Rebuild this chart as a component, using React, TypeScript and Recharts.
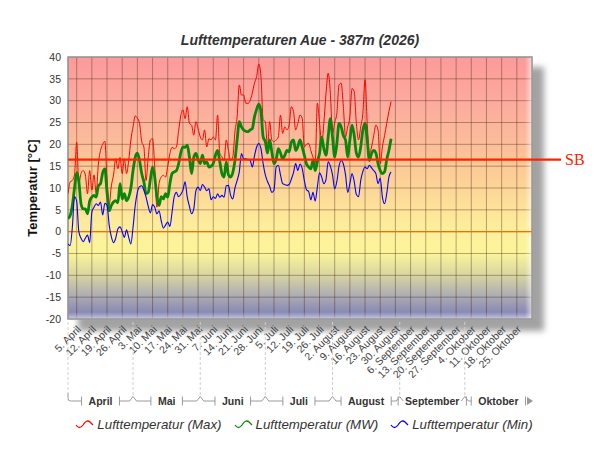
import React from 'react';
import * as RC from 'recharts';

const { LineChart, Line, XAxis, YAxis, CartesianGrid, ReferenceLine, ReferenceArea, Legend } = RC as any;

// ---------- data ----------
const maxValues = [
  8.7, 11.4, 11.7, 13, 20.5, 11, 13.3, 14, 13, 8.7,
  14, 9.5, 13, 8.7, 15.5, 18.6, 20, 20.7, 12, 6.2,
  10.5, 13, 16.7, 14.4, 17, 13.3, 16.7, 13.3, 16.3, 21,
  24, 26.5, 26, 24.8, 20.6, 19.4, 11.7, 17, 21, 21.3,
  14.8, 5.6, 11, 12.5, 12.9, 12.5, 15, 17.9, 19.3, 19,
  19.4, 23, 26.5, 27.9, 25.9, 28.6, 24.8, 24.4, 22.1, 25.2,
  23.6, 21.7, 21, 23.3, 19.4, 21.3, 21, 21.7, 21, 26.7,
  18, 17.1, 16.3, 21, 18.6, 16.3, 17.1, 22.9, 26.3, 33.6,
  31.3, 31.3, 29.4, 29.4, 30, 31.7, 34, 35.5, 38.4, 35.5,
  25.6, 25.2, 19.4, 25.2, 21, 20.6, 21, 21.7, 26.7, 22.5,
  24, 23.3, 24.4, 28.6, 27.5, 23.3, 24.8, 26.7, 26, 19.4,
  20, 20.2, 18.6, 17, 15.6, 29.4, 25, 20.2, 24.8, 31.7,
  36.3, 31.7, 22.5, 25, 27.1, 33.6, 34, 28.6, 21.7, 24,
  26.3, 32.8, 32.1, 24.8, 21, 24, 27.1, 34.8, 24.8, 17.9,
  19.4, 22, 24.4, 23.3, 15.6, 19.4, 22, 24.8, 27.5, 29.8,
];

const mwValues = [
  3, 3.7, 6, 10, 13.5, 11.5, 6.4, 5.2, 5.2, 4.1,
  7, 7.9, 8.3, 7.9, 10.5, 11, 13.5, 14.4, 9, 4.8,
  6, 6.8, 7.1, 6.6, 11, 7.5, 8.7, 7.1, 7.9, 10,
  14, 17, 18, 16.3, 13.3, 11.4, 8.7, 9, 12, 14.8,
  12.5, 8, 6, 8, 7.5, 8.7, 7.9, 11, 13.3, 13.7,
  14, 15.5, 18, 19.4, 19.3, 19.8, 17.1, 13.3, 17, 17.9,
  16.5, 15.6, 17.5, 15.6, 16, 14.8, 15, 15.6, 17.5, 18.6,
  16, 13.3, 12.5, 16, 13, 12.5, 13.5, 16.3, 21, 25.2,
  24, 23.3, 23, 22.9, 23.3, 23.6, 26.3, 28, 29.2, 27.5,
  21.7, 20.6, 18, 21, 18.3, 15.6, 16.5, 19, 18, 16.7,
  17.5, 18.6, 18.3, 20.5, 21, 18.6, 19.5, 21, 19.4, 17.5,
  15.5, 14.8, 14.4, 16.3, 14, 16, 17.9, 21.7, 19, 17.5,
  21.7, 25.9, 21.7, 17.1, 20.2, 24.8, 24, 22, 21, 17.1,
  21, 24.4, 22.1, 18, 17.1, 19.4, 23.3, 24.8, 21, 16.3,
  17.9, 18.6, 18, 15.6, 14, 13.3, 13.7, 16.5, 18.6, 21.3,
];

const minValues = [
  -2.8, -3.2, 1, 8, 7, 0, -1.5, -2.3, -1.5, -0.8,
  -2.5, 4.5, 5.6, 6.4, 6, 6.8, 3.8, 6.5, 6, 1.5,
  -1.2, -2.5, -1.5, 0.6, 1.1, 0, -1.3, 0.4, -1.3, -2.8,
  1, 6, 9, 10.3, 10.5, 9.5, 7.9, 5.8, 4.3, 6.2,
  5.6, 4.1, 4.8, 2.5, 0.8, 1.5, 2.2, 1.2, 4.5, 8,
  9, 8, 8.5, 9.5, 11.4, 7.9, 5.8, 4.1, 5.2, 9.4,
  10.2, 9.4, 10.8, 10.2, 9.4, 9.8, 7.3, 8, 7.6, 8.7,
  7.9, 8.3, 7.9, 10.5, 10.6, 8.3, 7.5, 10, 11.7, 13.7,
  17.9, 16.7, 16.7, 16.5, 16.3, 14.8, 17.3, 19.4, 20.2, 19,
  15.6, 13, 11.5, 10.4, 9, 9.5, 14.8, 15.2, 13, 11,
  10.8, 10.6, 10.8, 12, 13.5, 15.6, 14, 15.5, 14.5, 11.7,
  9.6, 9.2, 7.3, 9, 7, 10.2, 13.5, 12.5, 11, 12,
  16, 15, 13, 9.8, 11.5, 15, 16.3, 15.5, 13, 9,
  11, 13.3, 11.5, 8.5, 8, 11.7, 13.8, 14.8, 14.4, 15.2,
  14.6, 14, 13.3, 11, 12.3, 7.9, 6.4, 8.7, 12.5, 13.7,
];

const weekTickDays = [4, 11, 18, 25, 32, 39, 46, 53, 60, 67, 74, 81, 88, 95, 102, 109, 116, 123, 130, 137, 144, 151, 158, 165, 172, 179, 186, 193, 200, 207];
const weekTickLabels = [
  '5. April', '12. April', '19. April', '26. April',
  '3. Mai', '10. Mai', '17. Mai', '24. Mai', '31. Mai',
  '7. Juni', '14. Juni', '21. Juni', '28. Juni',
  '5. Juli', '12. Juli', '19. Juli', '26. Juli',
  '2. August', '9. August', '16. August', '23. August', '30. August',
  '6. September', '13. September', '20. September', '27. September',
  '4. Oktober', '11. Oktober', '18. Oktober', '25. Oktober',
];

const monthNames = ['April', 'Mai', 'Juni', 'Juli', 'August', 'September', 'Oktober'];
const monthStartDays = [0, 30, 61, 91, 122, 153, 183];
const monthLengths = [30, 31, 30, 31, 31, 30, 31];
const DAYS_TOTAL = 214;
const monthCenters = monthStartDays.map((s, i) => s + monthLengths[i] / 2);

const yTicks = [-20, -15, -10, -5, 0, 5, 10, 15, 20, 25, 30, 35, 40];
const sbValue = 16.5;

const seriesNames = ['Lufttemperatur (Max)', 'Lufttemperatur (MW)', 'Lufttemperatur (Min)'];
const seriesKeys = ['max', 'mw', 'min'];
const seriesColors = ['#ff0000', '#0a860a', '#0000ff'];
const seriesWidths = [1, 2.8, 1.1];

const data = maxValues.map((v, i) => ({ day: i, max: v, mw: mwValues[i], min: minValues[i] }));

// ---------- helpers ----------
const FONT = '"Liberation Sans", Arial, sans-serif';
let measureCtx: CanvasRenderingContext2D | null = null;
function measureText(t: string, font: string): number {
  try {
    if (!measureCtx) measureCtx = document.createElement('canvas').getContext('2d');
    if (!measureCtx) return t.length * 6;
    measureCtx.font = font;
    return measureCtx.measureText(t).width;
  } catch (e) {
    return t.length * 6;
  }
}

const usePlotAreaHook: any = (RC as any).usePlotArea;
function usePlotAreaSafe(): any {
  return typeof usePlotAreaHook === 'function' ? usePlotAreaHook() : null;
}

const WEEK_AXIS_H = 68;

function WeekTick(props: any) {
  const { x, y, payload } = props;
  const idx = weekTickDays.indexOf(payload.value);
  const label = idx >= 0 ? weekTickLabels[idx] : '';
  const ax = x + 5;
  const ay = y + 11;
  return (
    <text x={ax} y={ay} transform={`rotate(-45 ${ax} ${ay})`} textAnchor="end" fontSize={10.5} fill="#444" fontFamily={FONT}>
      {label}
    </text>
  );
}

function MonthTick(props: any) {
  const area = usePlotAreaSafe();
  const { x, y, payload } = props;
  const i = monthCenters.indexOf(payload.value);
  if (i < 0) return null;
  const plotW = (area && area.width) || props.width || 464;
  const plotBottom = area ? area.y + area.height : y - WEEK_AXIS_H;
  const ppd = plotW / DAYS_TOTAL;
  const half = (monthLengths[i] / 2) * ppd;
  const b0 = x - half;
  const b1 = x + half;
  const name = monthNames[i];
  const w = measureText(name, `bold 10.5px ${FONT}`);
  const by = y + 14;
  const lt = x - w / 2 - 7;
  const rt = x + w / 2 + 7;
  const col = '#9a9a9a';
  const last = i === monthNames.length - 1;
  const els: any[] = [];
  els.push(<line key="d" x1={b0} y1={plotBottom + 3} x2={b0} y2={i === 0 ? by - 8 : by - 4.5} stroke="#cfcfcf" strokeDasharray="3 2" />);
  if (i === 0) {
    els.push(<path key="l" d={`M${b0} ${by - 8} L${b0} ${by - 2.5} Q${b0} ${by} ${b0 + 2.5} ${by} L${lt} ${by}`} fill="none" stroke={col} />);
  } else {
    els.push(<path key="c" d={`M${b0 - 3.5} ${by} L${b0} ${by - 4.5} L${b0 + 3.5} ${by}`} fill="none" stroke={col} />);
    if (lt > b0 + 3.5) els.push(<line key="l" x1={b0 + 3.5} y1={by} x2={lt} y2={by} stroke={col} />);
  }
  const rEnd = last ? b1 - 6 : b1 - 3.5;
  if (rt < rEnd) els.push(<line key="r" x1={rt} y1={by} x2={rEnd} y2={by} stroke={col} />);
  els.push(<line key="tl" x1={lt} y1={by - 4.5} x2={lt} y2={by + 4.5} stroke={col} />);
  els.push(<line key="tr" x1={rt} y1={by - 4.5} x2={rt} y2={by + 4.5} stroke={col} />);
  if (last) els.push(<path key="a" d={`M${b1 - 5} ${by - 4} L${b1 + 1} ${by} L${b1 - 5} ${by + 4} Z`} fill={col} />);
  els.push(
    <text key="t" x={x} y={by + 4} textAnchor="middle" fontSize={10.5} fontWeight="bold" fill="#333" fontFamily={FONT}>
      {name}
    </text>
  );
  return <g>{els}</g>;
}

function YTick(props: any) {
  const { x, y, payload } = props;
  return (
    <text x={x} y={y + 3.8} textAnchor="end" fontSize={10.5} fill="#333" fontFamily={FONT}>
      {payload.value}
    </text>
  );
}

function Frame(props: any) {
  const { x, y, width, height } = props;
  if (x == null || width == null) return null;
  const r = x + width;
  const b = y + height;
  return (
    <g>
      <defs>
        <filter id="shBlur" x="-10%" y="-10%" width="130%" height="130%">
          <feGaussianBlur stdDeviation="3" />
        </filter>
        <mask id="shMask" maskUnits="userSpaceOnUse" x="0" y="0" width="600" height="450">
          <rect x="0" y="0" width="600" height="450" fill="#fff" />
          <rect x={x} y={y} width={width} height={height} fill="#000" />
        </mask>
        <linearGradient id="bevR" x1="0" y1="0" x2="1" y2="0">
          <stop offset="0" stopColor="#fff" stopOpacity="0" />
          <stop offset="1" stopColor="#fff" stopOpacity="0.6" />
        </linearGradient>
        <linearGradient id="bevB" x1="0" y1="0" x2="0" y2="1">
          <stop offset="0" stopColor="#fff" stopOpacity="0" />
          <stop offset="1" stopColor="#fff" stopOpacity="0.6" />
        </linearGradient>
      </defs>
      <g mask="url(#shMask)">
        <rect x={x + 10} y={y + 10} width={width + 2} height={height + 2} fill="#a2a2a2" filter="url(#shBlur)" />
      </g>
      <rect x={r - 7} y={y} width={7} height={height} fill="url(#bevR)" />
      <rect x={x} y={b - 7} width={width} height={7} fill="url(#bevB)" />
      <rect x={x} y={y} width={width} height={height} fill="none" stroke="#9a9a9a" strokeWidth={1.5} />
    </g>
  );
}

function SBShape(props: any) {
  const { x1, y1, x2 } = props;
  if (x1 == null) return null;
  return (
    <g>
      <line x1={x1} y1={y1} x2={x2 + 29} y2={y1} stroke="#ff2200" strokeWidth={2.2} />
      <text x={x2 + 33} y={y1 + 5.5} fill="#ff2200" fontSize={16} fontFamily='"Liberation Serif", "Times New Roman", serif'>SB</text>
    </g>
  );
}

function LegendIcon({ color }: { color: string }) {
  return (
    <svg width={19} height={12} style={{ display: 'block' }}>
      <path d="M1 7 Q4.5 12 8 7 Q11.5 1 15 4 Q17 6 18 7" fill="none" stroke={color} strokeWidth={1.3} />
    </svg>
  );
}

function LegendContent() {
  return (
    <div style={{ display: 'flex', justifyContent: 'center', alignItems: 'center', gap: 12, height: 22, paddingLeft: 8, width: 600, boxSizing: 'border-box' }}>
      {seriesNames.map((n, i) => (
        <div key={n} style={{ display: 'flex', alignItems: 'center', gap: 3 }}>
          <LegendIcon color={seriesColors[i]} />
          <span style={{ fontFamily: FONT, fontStyle: 'italic', fontSize: 13.3, color: '#333', whiteSpace: 'nowrap' }}>{n}</span>
        </div>
      ))}
    </div>
  );
}

export default function App() {
  return (
    <div style={{ position: 'absolute', left: 0, top: 0, width: 600, height: 450, background: '#fff' }}>
      <svg width={0} height={0} style={{ position: 'absolute' }}>
        <defs>
          <linearGradient id="bgGrad" x1="0" y1="0" x2="0" y2="1">
            <stop offset="0" stopColor="#fb9a9a" />
            <stop offset="0.167" stopColor="#fcaa9e" />
            <stop offset="0.333" stopColor="#fcbd9a" />
            <stop offset="0.417" stopColor="#fcc996" />
            <stop offset="0.5" stopColor="#fcd597" />
            <stop offset="0.583" stopColor="#fde39a" />
            <stop offset="0.667" stopColor="#fdf19b" />
            <stop offset="0.75" stopColor="#fbf49b" />
            <stop offset="0.833" stopColor="#d8d5a2" />
            <stop offset="0.917" stopColor="#aaa9b5" />
            <stop offset="1" stopColor="#7b7bb3" />
          </linearGradient>
        </defs>
      </svg>
      <div style={{ position: 'absolute', left: 0, top: 31, width: 600, textAlign: 'center', fontFamily: FONT, fontWeight: 'bold', fontStyle: 'italic', fontSize: 14, lineHeight: '18px', color: '#333' }}>
        Lufttemperaturen Aue - 387m (2026)
      </div>
      <div style={{ position: 'absolute', left: 32, top: 188, transform: 'translate(-50%, -50%) rotate(-90deg)', whiteSpace: 'nowrap', fontFamily: FONT, fontWeight: 'bold', fontSize: 13, color: '#111' }}>
        Temperatur [°C]
      </div>
      <LineChart width={600} height={450} data={data} margin={{ top: 57, right: 68, bottom: 15, left: 0 }}>
        <CartesianGrid xAxisId="a" stroke="#3a1800" strokeOpacity={0.36} fill="url(#bgGrad)" fillOpacity={1} />
        <XAxis xAxisId="a" dataKey="day" type="number" domain={[0, DAYS_TOTAL]} ticks={weekTickDays} interval={0} tick={<WeekTick />} tickLine={false} axisLine={false} tickSize={0} tickMargin={0} height={WEEK_AXIS_H} allowDataOverflow />
        <XAxis xAxisId="b" dataKey="day" type="number" domain={[0, DAYS_TOTAL]} ticks={monthCenters} interval={0} tick={<MonthTick />} tickLine={false} axisLine={false} tickSize={0} tickMargin={0} height={26} allowDataOverflow />
        <YAxis domain={[-20, 40]} ticks={yTicks} interval={0} width={68} tick={<YTick />} tickLine={false} axisLine={false} tickSize={0} tickMargin={7} allowDataOverflow />
        <ReferenceArea xAxisId="a" x1={0} x2={DAYS_TOTAL} y1={-20} y2={40} ifOverflow="visible" shape={<Frame />} />
        <ReferenceLine xAxisId="a" y={0} stroke="#ff6a00" strokeWidth={1.2} />
        {seriesKeys.map((k, i) => (
          <Line key={k} xAxisId="a" type="monotone" dataKey={k} name={seriesNames[i]} stroke={seriesColors[i]} strokeWidth={seriesWidths[i]} dot={false} activeDot={false} isAnimationActive={false} />
        ))}
        <ReferenceLine xAxisId="a" y={sbValue} ifOverflow="visible" shape={<SBShape />} />
        <Legend verticalAlign="bottom" align="center" height={22} wrapperStyle={{ left: 0, width: 600 }} content={() => <LegendContent />} />
      </LineChart>
    </div>
  );
}
